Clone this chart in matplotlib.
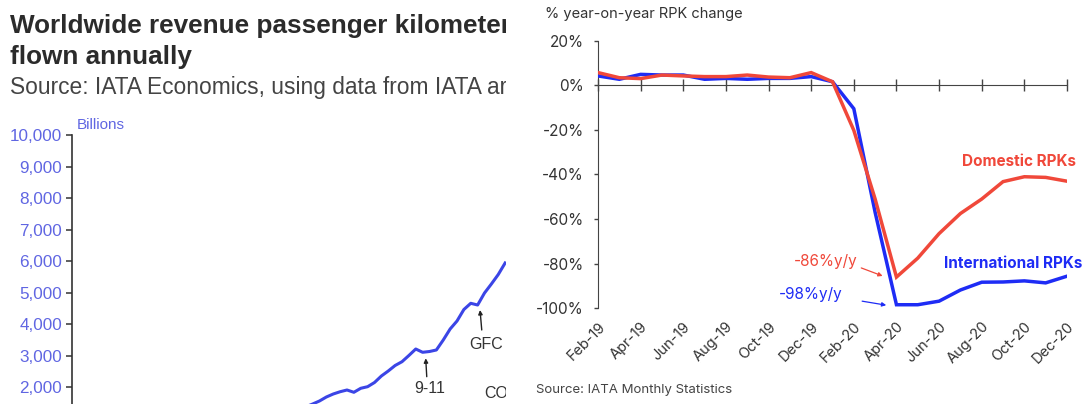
import matplotlib
matplotlib.use("Agg")
import matplotlib.pyplot as plt
import numpy as np

# ---- left panel: worldwide RPKs (billions), visible part of the line ----
years = [1984, 1985, 1986, 1987, 1988, 1989, 1990, 1991, 1992, 1993,
         1994, 1995, 1996, 1997, 1998, 1999, 2000, 2001, 2002, 2003,
         2004, 2005, 2006, 2007, 2008, 2009, 2010, 2011, 2012, 2013]
rpk_billions = [1370, 1460, 1556, 1683, 1778, 1850, 1905, 1832, 1959, 2010,
                2143, 2349, 2508, 2683, 2803, 3000, 3206, 3102, 3127, 3175,
                3492, 3841, 4095, 4460, 4657, 4603, 4984, 5270, 5571, 5937]
left_yticks = [2000, 3000, 4000, 5000, 6000, 7000, 8000, 9000, 10000]

# ---- right panel: % year-on-year RPK change ----
months = ["Feb-19", "Mar-19", "Apr-19", "May-19", "Jun-19", "Jul-19", "Aug-19",
          "Sep-19", "Oct-19", "Nov-19", "Dec-19", "Jan-20", "Feb-20", "Mar-20",
          "Apr-20", "May-20", "Jun-20", "Jul-20", "Aug-20", "Sep-20", "Oct-20",
          "Nov-20", "Dec-20"]
international = [4.2, 2.7, 4.9, 4.6, 4.6, 2.7, 3.1, 2.7, 3.1, 3.1, 3.9, 1.6,
                 -10.5, -57.0, -98.4, -98.4, -96.8, -91.8, -88.3, -88.2, -87.7,
                 -88.6, -85.6]
domestic = [5.7, 3.4, 3.0, 4.6, 4.2, 3.9, 3.9, 4.6, 3.7, 3.4, 5.7, 1.6,
            -20.2, -51.0, -86.0, -77.5, -66.5, -57.5, -51.0, -43.2, -41.0,
            -41.3, -43.0]
right_yticks = [-100, -80, -60, -40, -20, 0, 20]

W, H = 1085, 404
LEFT_BLUE = "#3b45e6"
TICK_BLUE = "#6066e2"
BLUE = "#1e2cf5"
RED = "#f0483a"
DARK = "#333333"

fig = plt.figure(figsize=(W / 100, H / 100), dpi=100)


def fx(px):
    return px / W


def fy(py):
    return 1 - py / H


# ================= left panel (cropped screenshot) =================
left_edge = 506
bg = fig.add_axes([0, 0, fx(left_edge), 1])
bg.set_xlim(0, left_edge)
bg.set_ylim(H, 0)
bg.axis("off")
bg.text(10, 33, "Worldwide revenue passenger kilometers", fontsize=18.8,
        fontweight="bold", family="Liberation Sans", color="#2b2b2b",
        va="baseline", clip_on=True)
bg.text(10, 64, "flown annually", fontsize=18.8, fontweight="bold",
        family="Liberation Sans", color="#2b2b2b", va="baseline", clip_on=True)
bg.text(10, 94, "Source: IATA Economics, using data from IATA ar",
        fontsize=16.4, family="Liberation Sans", color="#444444",
        va="baseline", clip_on=True)

axl = fig.add_axes([fx(72), fy(450), fx(left_edge) - fx(72), fy(135) - fy(450)])
axl.plot(years, rpk_billions, color=LEFT_BLUE, lw=2.2, solid_joinstyle="round")
axl.set_xlim(1950, 1950 + (left_edge - 72) / 6.875)
axl.set_ylim(0, 10000)
axl.set_yticks(left_yticks)
axl.set_yticklabels([f"{v:,}" for v in left_yticks])
axl.set_xticks([])
for s in ["top", "right", "bottom"]:
    axl.spines[s].set_visible(False)
axl.spines["left"].set_color("#333333")
axl.spines["left"].set_linewidth(1.2)
axl.tick_params(axis="y", direction="out", length=4, width=1.1, color="#333333",
                pad=3, labelsize=12.3, labelcolor=TICK_BLUE)
for lab in axl.get_yticklabels():
    lab.set_family("Liberation Sans")
fig.text(fx(77), fy(129), "Billions", fontsize=11, color=TICK_BLUE,
         family="Liberation Sans", va="baseline")

arrow_kw = dict(arrowstyle="-|>", color="#222222", lw=1.0, mutation_scale=6,
                shrinkA=0, shrinkB=0)
axl.annotate("", xy=(2001.45, 2911), xytext=(2001.6, 2327), arrowprops=arrow_kw)
axl.text(2002.07, 1959, "9-11", ha="center", va="center", fontsize=11.5,
         family="Liberation Sans", color=DARK)
axl.annotate("", xy=(2009.35, 4444), xytext=(2009.6, 3810), arrowprops=arrow_kw)
axl.text(2010.2, 3365, "GFC", ha="center", va="center", fontsize=11.5,
         family="Liberation Sans", color=DARK)
axl.text(2009.9, 1778, "COVID", ha="left", va="center", fontsize=11.5,
         family="Liberation Sans", color=DARK, clip_on=True)

# ================= right panel =================
FONT_R = "Inter"
x = np.arange(len(months))
axr = fig.add_axes([fx(598), fy(308.3), fx(1067) - fx(598), fy(40.7) - fy(308.3)])
axr.plot(x, international, color=BLUE, lw=2.5, solid_joinstyle="miter", zorder=3)
axr.plot(x, domestic, color=RED, lw=2.5, solid_joinstyle="miter", zorder=4)
axr.set_xlim(0, len(months) - 1)
axr.set_ylim(-100, 20)
axr.set_yticks(right_yticks)
axr.set_yticklabels([f"{v}%" for v in right_yticks])
for s in ["top", "right"]:
    axr.spines[s].set_visible(False)
axr.spines["left"].set_color("#444444")
axr.spines["bottom"].set_color("#444444")
axr.spines["bottom"].set_position(("data", 0))
axr.spines["bottom"].set_zorder(1)
axr.set_xticks(x[::2])
axr.tick_params(axis="x", direction="inout", length=8, width=1, color="#444444",
                labelbottom=False)
axr.tick_params(axis="y", direction="out", length=3, width=1, color="#444444",
                pad=7, labelsize=11, labelcolor=DARK)
for lab in axr.get_yticklabels():
    lab.set_family(FONT_R)

sec = axr.secondary_xaxis("bottom")
sec.spines["bottom"].set_visible(False)
sec.set_xticks(x[::2])
sec.set_xticklabels(months[::2], rotation=45, ha="right", va="top",
                    rotation_mode="anchor", fontsize=10.5, color=DARK,
                    family=FONT_R)
sec.tick_params(axis="x", length=0, pad=8)

fig.text(fx(545), fy(14), "% year-on-year RPK change", fontsize=10.5,
         family=FONT_R, color=DARK, va="center")
fig.text(fx(536), fy(390), "Source: IATA Monthly Statistics", fontsize=9.5,
         family=FONT_R, color="#444444", va="center")

apr = months.index("Apr-20")
axr.text(19.74, -34.0, "Domestic RPKs", color=RED, fontsize=11,
         fontweight="bold", family=FONT_R, ha="center", va="center")
axr.text(19.48, -80.1, "International RPKs", color=BLUE, fontsize=11,
         fontweight="bold", family=FONT_R, ha="center", va="center")
axr.text(10.7, -78.8, f"{domestic[apr]:.0f}%y/y", color=RED, fontsize=11,
         family=FONT_R, ha="center", va="center")
axr.annotate("", xy=(apr - 0.65, domestic[apr] + 0.5), xytext=(12.35, -81.9),
             arrowprops=dict(arrowstyle="-|>", color=RED, lw=0.9,
                             mutation_scale=6, shrinkA=0, shrinkB=0))
axr.text(10.0, -93.6, f"{international[apr]:.0f}%y/y", color=BLUE, fontsize=11,
         family=FONT_R, ha="center", va="center")
axr.annotate("", xy=(apr - 0.48, international[apr] - 0.2), xytext=(12.39, -96.8),
             arrowprops=dict(arrowstyle="-|>", color=BLUE, lw=0.9,
                             mutation_scale=6, shrinkA=0, shrinkB=0))

fig.savefig("out.png", dpi=100)
